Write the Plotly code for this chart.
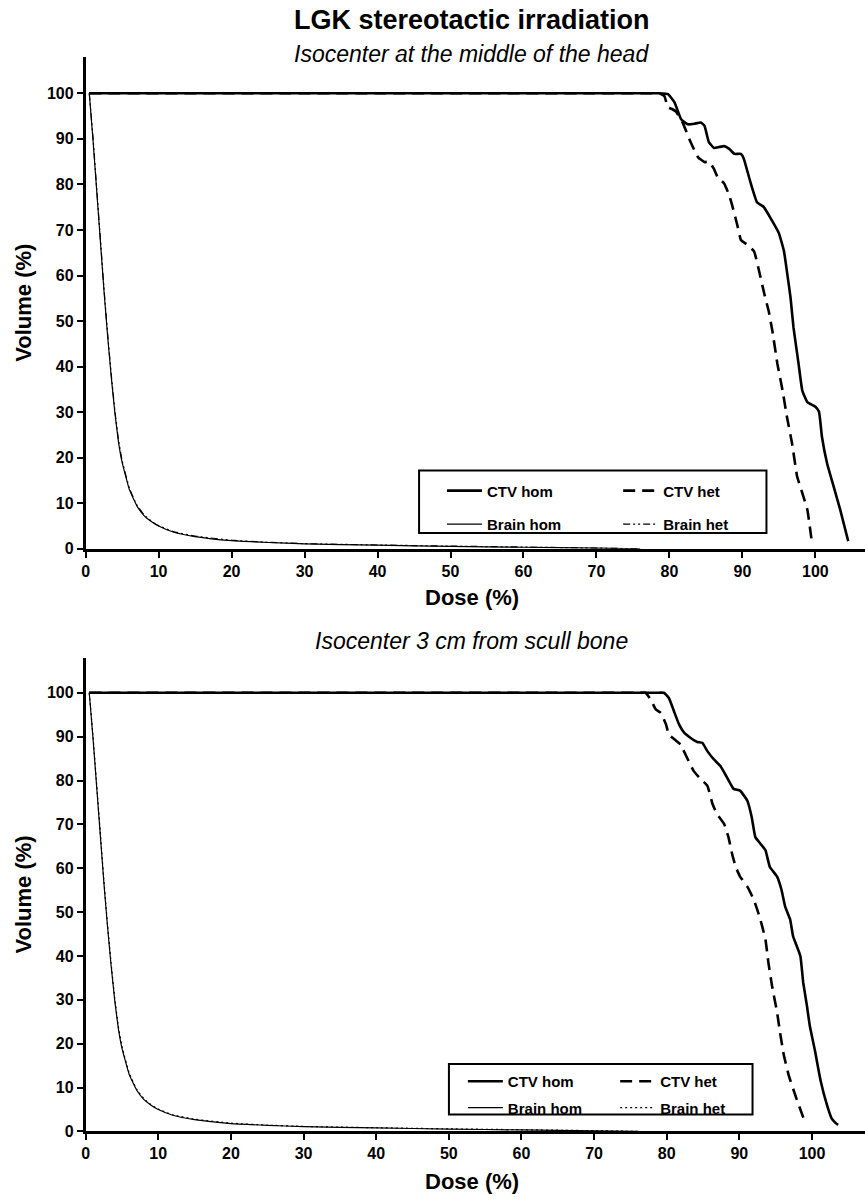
import plotly.graph_objects as go

# ---------------- data ----------------
# Top panel: isocenter at the middle of the head
top_ctv_hom_dose = [0.5, 40, 70, 77.5, 78.6, 79.8, 80.7, 81.6, 82.5, 83.4, 84.3, 84.8, 85.4, 86.1, 86.8,
                    87.5, 88.2, 88.9, 89.8, 90.2, 91.1, 92.0, 92.9, 93.9, 95.0, 95.7, 96.1, 96.6, 97.0,
                    97.7, 98.2, 98.9, 100.0, 100.5, 100.9, 101.6, 102.5, 103.4, 104.5]
top_ctv_hom_vol = [100, 100, 100, 100, 100, 99.8, 98.0, 94.3, 93.2, 93.3, 93.6, 92.9, 89.3, 88.0, 88.2,
                   88.4, 87.8, 86.7, 86.7, 85.6, 80.5, 76.1, 75.1, 72.5, 69.3, 65.3, 60.9, 55.1, 48.6,
                   40.6, 34.8, 32.2, 31.2, 30.1, 24.6, 18.8, 13.7, 8.6, 1.7]

top_ctv_het_dose = [0.5, 40, 70, 77.5, 78.6, 79.3, 79.8, 80.4, 80.9, 81.8, 82.9, 83.9, 84.8, 85.4, 86.1,
                    86.6, 87.5, 88.2, 88.6, 89.3, 89.8, 90.7, 91.6, 92.3, 93.0, 93.6, 94.1, 94.8, 95.5,
                    96.1, 96.8, 97.5, 98.2, 98.9, 99.5]
top_ctv_het_vol = [100, 100, 100, 100, 100, 99.4, 96.9, 96.5, 96.0, 93.6, 89.3, 86.0, 84.9, 85.0, 83.4,
                   81.6, 80.2, 77.6, 75.4, 71.1, 67.8, 66.7, 65.3, 60.9, 56.0, 52.2, 47.9, 40.6, 34.8,
                   29.0, 23.2, 15.9, 12.3, 8.6, 1.7]

top_brain_hom_dose = [0.5, 1.0, 1.5, 2.0, 2.5, 3.0, 3.5, 4.0, 4.5, 5.0, 6.0, 7.0, 8.0, 9.0, 10, 12, 15,
                      20, 25, 30, 40, 50, 60, 70, 76]
top_brain_hom_vol = [100, 90, 79, 68, 57, 47, 38, 30, 23.5, 19, 13, 9.5, 7.3, 6.0, 5.0, 3.7, 2.7,
                     1.8, 1.4, 1.1, 0.8, 0.55, 0.35, 0.15, 0.0]
top_brain_het_dose = [0.5, 1.0, 1.5, 2.0, 2.5, 3.0, 3.5, 4.0, 4.5, 5.0, 6.0, 7.0, 8.0, 9.0, 10, 12, 15,
                      20, 25, 30, 40, 50, 60, 70, 76]
top_brain_het_vol = [100, 90.5, 79.5, 68.5, 57.5, 47.5, 38.5, 30.5, 24, 19.4, 13.3, 9.7, 7.5, 6.1, 5.1,
                     3.8, 2.8, 1.9, 1.45, 1.15, 0.85, 0.6, 0.4, 0.18, 0.0]

# Bottom panel: isocenter 3 cm from skull bone
bot_ctv_hom_dose = [0.5, 40, 70, 78.5, 79.6, 80.3, 81.0, 81.7, 82.4, 83.3, 84.2, 84.9, 85.6, 86.5, 87.4,
                    88.3, 89.2, 90.1, 91.1, 91.7, 92.2, 92.9, 93.6, 94.2, 95.2, 95.8, 96.3, 97.0, 97.4,
                    98.4, 98.8, 99.3, 99.7, 100.4, 101.2, 102.0, 102.7, 103.2, 103.6]
bot_ctv_hom_vol = [100, 100, 100, 100, 100, 98.8, 95.8, 92.8, 90.9, 89.7, 88.8, 88.6, 86.7, 84.8, 83.3,
                   80.7, 78.1, 77.7, 75.4, 71.7, 67.1, 65.6, 64.1, 60.3, 58.1, 55.1, 51.3, 48.3, 44.5,
                   40.0, 33.9, 28.7, 24.1, 18.5, 11.5, 6.4, 3.0, 2.0, 1.5]

bot_ctv_het_dose = [0.5, 40, 70, 76.0, 77.1, 77.8, 78.5, 79.2, 79.9, 80.3, 81.9, 82.8, 83.7, 84.7, 85.6,
                    86.3, 86.9, 87.9, 88.5, 89.0, 89.5, 90.1, 91.1, 92.0, 92.9, 93.6, 94.0, 94.5, 95.2,
                    95.6, 96.1, 96.8, 97.9, 99.0]
bot_ctv_het_vol = [100, 100, 100, 100, 100, 98.4, 96.2, 95.4, 92.8, 90.5, 88.2, 85.2, 82.2, 80.3, 78.8,
                   74.7, 72.4, 70.1, 67.1, 63.3, 60.3, 58.1, 55.8, 52.8, 48.3, 43.7, 38.5, 33.2, 27.1,
                   22.6, 17.6, 12.8, 7.3, 2.3]

bot_brain_hom_dose = [0.5, 1.0, 1.5, 2.0, 2.5, 3.0, 3.5, 4.0, 4.5, 5.0, 6.0, 7.0, 8.0, 9.0, 10, 12, 15,
                      20, 25, 30, 40, 50, 60, 70, 76]
bot_brain_hom_vol = [100, 90, 79, 68, 57, 47, 38, 30, 23.5, 19, 13, 9.5, 7.3, 6.0, 5.0, 3.7, 2.7,
                     1.8, 1.4, 1.1, 0.8, 0.55, 0.35, 0.15, 0.0]
bot_brain_het_dose = [0.5, 1.0, 1.5, 2.0, 2.5, 3.0, 3.5, 4.0, 4.5, 5.0, 6.0, 7.0, 8.0, 9.0, 10, 12, 15,
                      20, 25, 30, 40, 50, 60, 70, 76]
bot_brain_het_vol = [100, 90.5, 79.5, 68.5, 57.5, 47.5, 38.5, 30.5, 24, 19.4, 13.3, 9.7, 7.5, 6.1, 5.1,
                     3.8, 2.8, 1.9, 1.45, 1.15, 0.85, 0.6, 0.4, 0.18, 0.0]

x_ticks = [0, 10, 20, 30, 40, 50, 60, 70, 80, 90, 100]
y_ticks = [0, 10, 20, 30, 40, 50, 60, 70, 80, 90, 100]

title_text = "LGK stereotactic irradiation"
sub_top = "Isocenter at the middle of the head"
sub_bot = "Isocenter 3 cm from scull bone"

# ---------------- layout helpers ----------------
W, H = 865, 1203
FONT = "Liberation Sans, Arial, Helvetica, sans-serif"


def px(x):
    return x / W


def py(y):
    return 1 - y / H


fig = go.Figure()

CTV_W = 2.6
BR_W = 1.2


def add(xs, ys, name, axis, legend, group, width, dash, rank):
    xa, ya = axis
    fig.add_trace(go.Scatter(
        x=xs, y=ys, name=name, mode="lines", xaxis=xa, yaxis=ya,
        line=dict(color="black", width=width, dash=dash, shape="spline", smoothing=0.35),
        legend=legend, legendgroup=group, legendrank=rank, showlegend=True, hoverinfo="skip"))


# top panel
add(top_brain_hom_dose, top_brain_hom_vol, "Brain hom", ("x", "y"), "legend", "t2", BR_W, "solid", 2)
add(top_brain_het_dose, top_brain_het_vol, "Brain het", ("x", "y"), "legend2", "t4", BR_W,
    "7px,3px,2px,3px,2px,3px", 2)
add(top_ctv_het_dose, top_ctv_het_vol, "CTV het", ("x", "y"), "legend2", "t3", CTV_W, "12px,7px", 1)
add(top_ctv_hom_dose, top_ctv_hom_vol, "CTV hom", ("x", "y"), "legend", "t1", CTV_W, "solid", 1)
# bottom panel
add(bot_brain_hom_dose, bot_brain_hom_vol, "Brain hom", ("x2", "y2"), "legend3", "b2", BR_W, "solid", 2)
add(bot_brain_het_dose, bot_brain_het_vol, "Brain het", ("x2", "y2"), "legend4", "b4", BR_W, "2px,3px", 2)
add(bot_ctv_het_dose, bot_ctv_het_vol, "CTV het", ("x2", "y2"), "legend4", "b3", CTV_W, "12px,7px", 1)
add(bot_ctv_hom_dose, bot_ctv_hom_vol, "CTV hom", ("x2", "y2"), "legend3", "b1", CTV_W, "solid", 1)

axis_common = dict(
    showline=True, linecolor="black", linewidth=2.5, mirror=False,
    ticks="outside", ticklen=6, tickwidth=2, tickcolor="black",
    showgrid=False, zeroline=False,
    tickfont=dict(family=FONT, size=16, color="black", weight="bold"),
    fixedrange=True,
)

x_dom = [px(82), 1.0]
top_y0, top_y1 = 553, 553 - 108 * 4.59
bot_y0, bot_y1 = 1140, 1140 - 108 * 4.42

fig.update_layout(
    width=W, height=H,
    margin=dict(l=0, r=0, t=0, b=0),
    paper_bgcolor="white", plot_bgcolor="white",
    font=dict(family=FONT, color="black"),
    xaxis=dict(domain=x_dom, range=[0, 106.8], tickvals=x_ticks, anchor="y", **axis_common),
    yaxis=dict(domain=[py(top_y0), py(top_y1)], range=[0, 108], tickvals=y_ticks, anchor="x", **axis_common),
    xaxis2=dict(domain=x_dom, range=[0, 107.3], tickvals=x_ticks, anchor="y2", **axis_common),
    yaxis2=dict(domain=[py(bot_y0), py(bot_y1)], range=[0, 108], tickvals=y_ticks, anchor="x2", **axis_common),
    showlegend=True,
)

leg_common = dict(
    bgcolor="rgba(0,0,0,0)", borderwidth=0, orientation="v",
    font=dict(family=FONT, size=15, color="black", weight="bold"),
    xanchor="left", yanchor="top", itemclick=False, itemdoubleclick=False,
    traceorder="grouped", itemwidth=35,
)
fig.update_layout(
    legend=dict(x=px(440), y=py(478), tracegroupgap=11, **leg_common),
    legend2=dict(x=px(617), y=py(478), tracegroupgap=11, **leg_common),
    legend3=dict(x=px(461), y=py(1073), tracegroupgap=4, **leg_common),
    legend4=dict(x=px(614), y=py(1073), tracegroupgap=4, **leg_common),
)

# legend boxes
fig.add_shape(type="rect", xref="paper", yref="paper", x0=px(417), x1=px(766), y0=py(537), y1=py(474),
              line=dict(color="black", width=2))
fig.add_shape(type="rect", xref="paper", yref="paper", x0=px(447), x1=px(752), y0=py(1123), y1=py(1072),
              line=dict(color="black", width=2))

ann = []
ann.append(dict(text=title_text, x=px(470), y=py(20), xref="paper", yref="paper", showarrow=False,
                xanchor="center", yanchor="middle",
                font=dict(family=FONT, size=27, color="black", weight="bold")))
ann.append(dict(text=sub_top, x=px(470), y=py(54), xref="paper", yref="paper", showarrow=False,
                xanchor="center", yanchor="middle",
                font=dict(family=FONT, size=23, color="black", style="italic")))
ann.append(dict(text=sub_bot, x=px(470), y=py(646), xref="paper", yref="paper", showarrow=False,
                xanchor="center", yanchor="middle",
                font=dict(family=FONT, size=23, color="black", style="italic")))
for yc in (602, 1190):
    ann.append(dict(text="Dose (%)", x=px(470), y=py(yc), xref="paper", yref="paper", showarrow=False,
                    xanchor="center", yanchor="middle",
                    font=dict(family=FONT, size=22, color="black", weight="bold")))
for yc in ((top_y0 + top_y1) / 2, (bot_y0 + bot_y1) / 2):
    ann.append(dict(text="Volume (%)", x=px(20), y=py(yc), xref="paper", yref="paper", showarrow=False,
                    xanchor="center", yanchor="middle", textangle=-90,
                    font=dict(family=FONT, size=22, color="black", weight="bold")))
fig.update_layout(annotations=ann)

fig.write_html("out.html")
